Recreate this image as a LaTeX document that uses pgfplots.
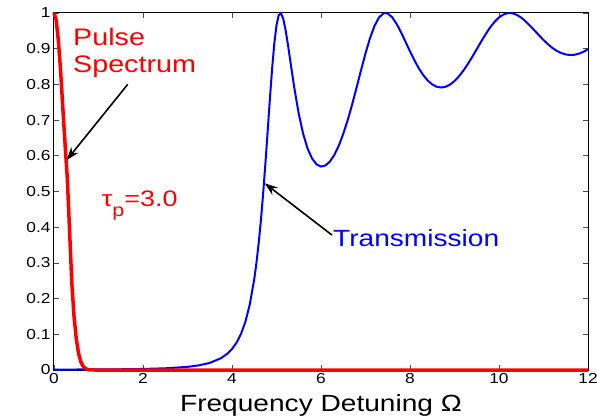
\documentclass[border=0pt]{standalone}
\usepackage{fontspec}
\setmainfont{Liberation Sans}
\usepackage{graphicx}
\usepackage{pgfplots}
\pgfplotsset{compat=1.18}
\usetikzlibrary{arrows.meta}

% the reference text is stretched sideways
\newcommand{\wide}[1]{\scalebox{1.2}[1]{#1}}

\pgfplotstableread{
x y
0 1.0
0.05 0.98
0.1 0.92
0.15 0.835
0.2 0.73
0.25 0.63
0.3 0.535
0.35 0.39
0.4 0.245
0.45 0.15
0.5 0.088
0.55 0.048
0.6 0.024
0.65 0.011
0.7 0.0045
0.75 0.0015
0.8 0.0003
0.9 0
12 0
}\pulse

\pgfplotstableread{
x y
0 0.00134
0.5 0.00140
1 0.00162
1.5 0.00207
2 0.00294
2.5 0.00473
3 0.00882
3.25 0.0129
3.5 0.0199
3.75 0.0329
3.9 0.0461
4 0.0588
4.1 0.0762
4.2 0.1004
4.3 0.1347
4.4 0.1838
4.5 0.2545
4.55 0.3008
4.6 0.3557
4.65 0.4200
4.7 0.4944
4.75 0.5774
4.8 0.6665
4.85 0.7570
4.9 0.8421
4.95 0.9139
5.0 0.9658
5.05 0.9942
5.1 0.9992
5.15 0.9844
5.2 0.9551
5.25 0.9169
5.3 0.8745
5.4 0.7902
5.5 0.7177
5.6 0.6610
5.7 0.6197
5.8 0.5923
5.9 0.5759
6.0 0.5698
6.1 0.5729
6.2 0.5839
6.3 0.6026
6.4 0.6286
6.5 0.6615
6.6 0.7000
6.7 0.7439
6.8 0.7914
6.9 0.8398
7.0 0.8868
7.1 0.9291
7.2 0.9633
7.3 0.9869
7.4 0.9986
7.45 1.0
7.5 0.9985
7.6 0.9880
7.7 0.9694
7.8 0.9456
7.9 0.9192
8.0 0.8925
8.1 0.8672
8.2 0.8447
8.3 0.8256
8.4 0.8106
8.5 0.7999
8.6 0.7934
8.7 0.7913
8.8 0.7934
8.9 0.7995
9.0 0.8093
9.1 0.8226
9.2 0.8387
9.3 0.8571
9.4 0.8775
9.5 0.8988
9.6 0.9202
9.7 0.9407
9.8 0.9594
9.9 0.9753
10.0 0.9876
10.1 0.9958
10.2 0.9997
10.3 0.9992
10.4 0.9948
10.5 0.9869
10.6 0.9764
10.7 0.9641
10.8 0.9508
10.9 0.9373
11.0 0.9244
11.1 0.9126
11.2 0.9022
11.3 0.8939
11.4 0.8878
11.5 0.8838
11.6 0.8823
11.7 0.8831
11.8 0.8862
11.9 0.8915
12.0 0.8987
}\trans

\begin{document}
\begin{tikzpicture}
\begin{axis}[
  scale only axis,
  width=534bp, height=357bp,
  xmin=0, xmax=12, ymin=0, ymax=1,
  xtick={0,2,4,6,8,10,12},
  ytick={0,0.1,0.2,0.3,0.4,0.5,0.6,0.7,0.8,0.9,1},
  tick align=inside,
  major tick length=5bp,
  every tick/.style={black!70, line width=0.6bp},
  axis line style={line width=1bp},
  clip=false,
  /pgf/number format/assume math mode=true,
  tick label style={font=\fontsize{14.5}{16}\selectfont},
  xticklabel={\wide{\pgfmathprintnumber{\tick}}},
  yticklabel={\wide{\pgfmathprintnumber{\tick}}},
  xlabel={\wide{Frequency Detuning Ω}},
  xlabel style={font=\fontsize{23.5}{26}\selectfont,
    at={(axis description cs:0.5,0)}, anchor=base, yshift=-41bp},
]
\addplot[blue, line width=2bp] table {\trans};
\addplot[red, line width=3.5bp] table {\pulse};

\coordinate (sw) at (rel axis cs:0,0);
\coordinate (ne) at (rel axis cs:1,1);

\node[red, anchor=base west, inner sep=0pt, font=\fontsize{24}{26}\selectfont] at (axis cs:0.427,0.908) {\wide{Pulse}};
\node[red, anchor=base west, inner sep=0pt, font=\fontsize{24}{26}\selectfont] at (axis cs:0.427,0.832) {\wide{Spectrum}};
\node[red, anchor=base west, inner sep=0pt, font=\fontsize{22.5}{24}\selectfont] at (axis cs:1.07,0.457)
  {\wide{τ\raisebox{-9.5bp}{\fontsize{18}{18}\selectfont p}=3.0}};
\node[blue, anchor=base west, inner sep=0pt, font=\fontsize{23.5}{25}\selectfont] at (axis cs:6.27,0.347) {\wide{Transmission}};

\draw[line width=1.6bp, -{Stealth[length=13bp, width=9bp]}] (axis cs:1.656,0.800) -- (axis cs:0.285,0.588);
\draw[line width=1.6bp, -{Stealth[length=13bp, width=9bp]}] (axis cs:6.247,0.378) -- (axis cs:4.735,0.523);
\end{axis}
\pgfresetboundingbox
\path ([xshift=-54bp,yshift=-50bp]sw) rectangle ([xshift=9bp,yshift=13bp]ne);
\end{tikzpicture}
\end{document}
